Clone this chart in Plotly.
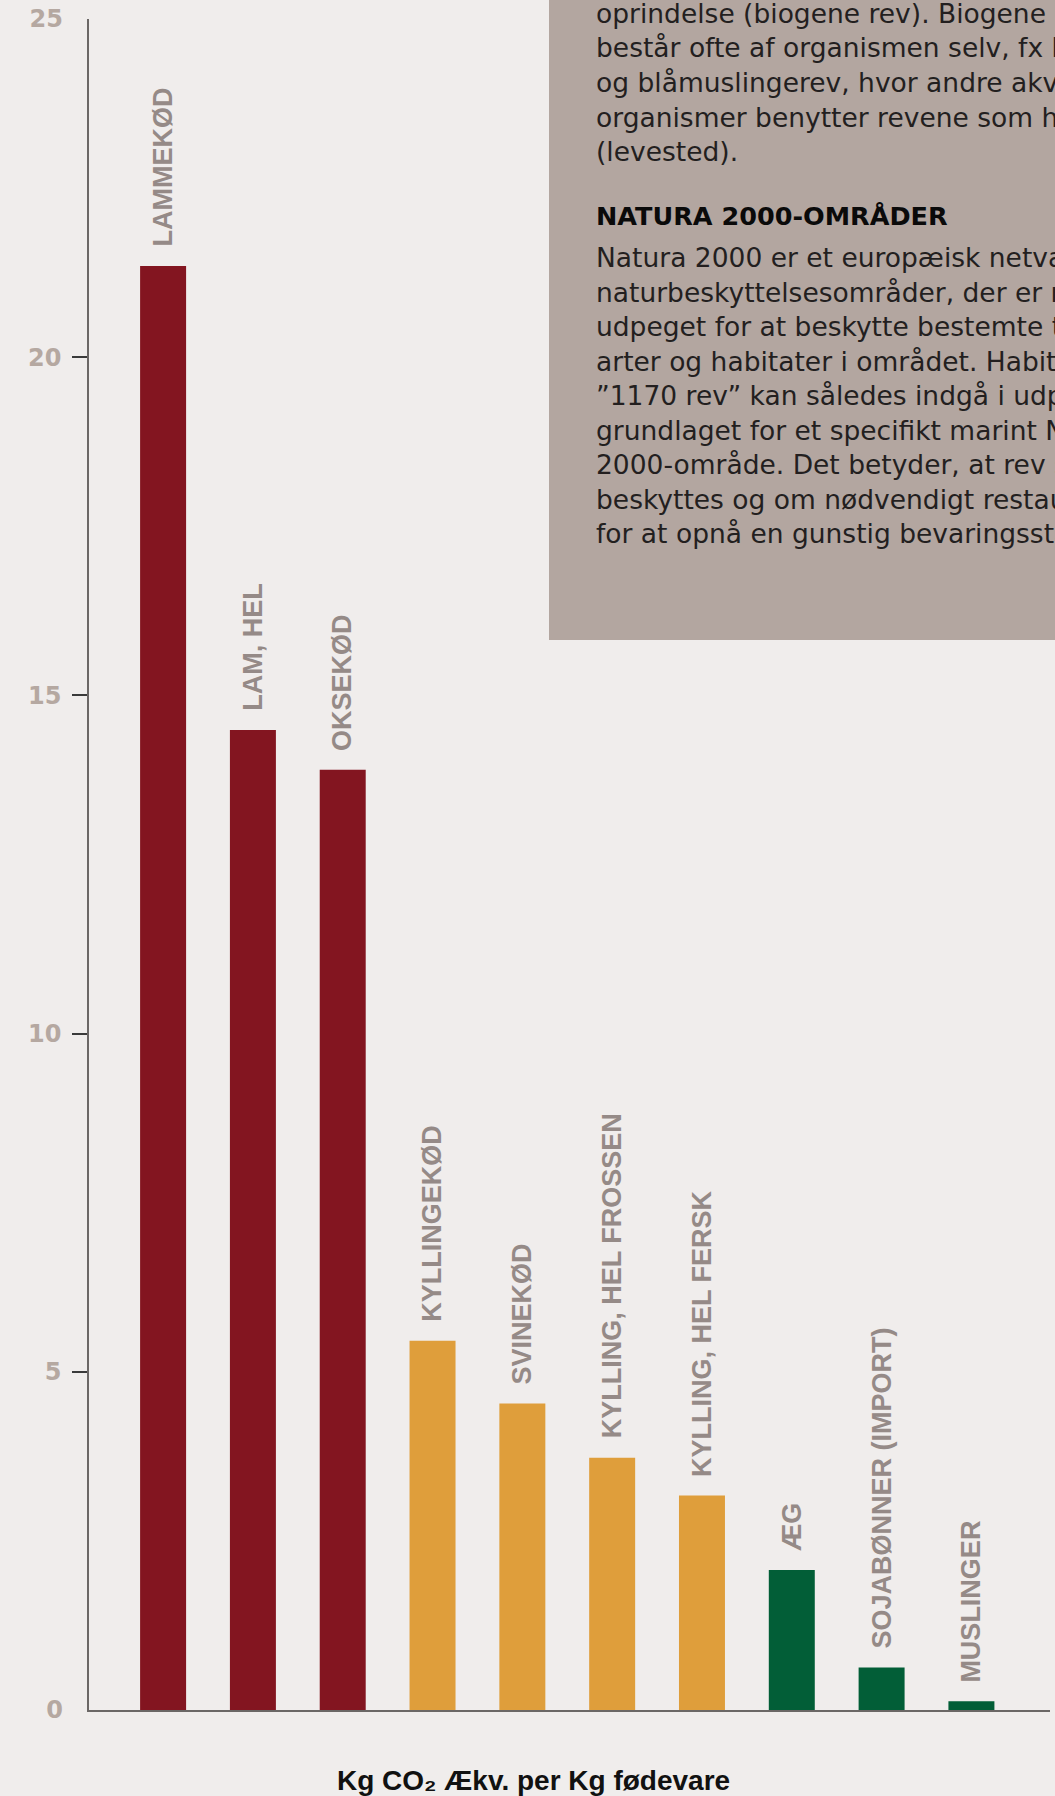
import plotly.graph_objects as go

# --- data -------------------------------------------------------------
foods = [
    "LAMMEKØD", "LAM, HEL", "OKSEKØD", "KYLLINGEKØD", "SVINEKØD",
    "KYLLING, HEL FROSSEN", "KYLLING, HEL FERSK", "ÆG",
    "SOJABØNNER (IMPORT)", "MUSLINGER",
]
co2_per_kg = [21.35, 14.49, 13.90, 5.46, 4.53, 3.73, 3.17, 2.07, 0.63, 0.13]
groups = ["rødt kød", "rødt kød", "rødt kød", "fjerkræ/svin", "fjerkræ/svin",
          "fjerkræ/svin", "fjerkræ/svin", "lav", "lav", "lav"]
y_ticks = [5, 10, 15, 20]
y_end_ticks = [0, 25]
x_title = "Kg CO₂ Ækv. per Kg fødevare"

box_intro = [
    "oprindelse (biogene rev). Biogene rev",
    "består ofte af organismen selv, fx koralrev",
    "og blåmuslingerev, hvor andre akvatiske",
    "organismer benytter revene som habitat",
    "(levested).",
]
box_heading = "NATURA 2000-OMRÅDER"
box_body = [
    "Natura 2000 er et europæisk netværk af",
    "naturbeskyttelsesområder, der er nationalt",
    "udpeget for at beskytte bestemte truede",
    "arter og habitater i området. Habitattypen",
    "”1170 rev” kan således indgå i udpegnings-",
    "grundlaget for et specifikt marint Natura",
    "2000-område. Det betyder, at rev skal",
    "beskyttes og om nødvendigt restaureres",
    "for at opnå en gunstig bevaringsstatus.",
]

# --- styling ----------------------------------------------------------
W, H = 1055, 1796
ML, MR, MT, MB = 89, 5, 16, 86
BG = "#f0edec"
BOX = "#b3a6a0"
group_colors = {"rødt kød": "#831520", "fjerkræ/svin": "#df9e3b", "lav": "#025e37"}
LABEL_GREY = "#958a87"
TICK_GREY = "#b5a8a1"
AXIS_GREY = "#6b6766"
FONT_B = "Liberation Sans"
WIDE = "DejaVu Sans"


def paper_y(py):
    return (H - MB - py) / (H - MT - MB)


def paper_x(px):
    return (px - ML) / (W - ML - MR)


fig = go.Figure()
fig.add_trace(go.Bar(
    x=foods, y=co2_per_kg,
    marker=dict(color=[group_colors[g] for g in groups], line=dict(width=0)),
    width=0.512,
    hoverinfo="x+y",
))
# invisible companion trace: carries the end labels 0 and 25 without tick marks
fig.add_trace(go.Scatter(x=[foods[0]], y=[0], yaxis="y2", mode="markers",
                         marker=dict(opacity=0), hoverinfo="skip", showlegend=False))

annotations = []
for f, v in zip(foods, co2_per_kg):
    annotations.append(dict(
        x=f, y=v, xref="x", yref="y", text=f, textangle=-90,
        showarrow=False, xanchor="center", yanchor="bottom", yshift=17,
        font=dict(family=FONT_B, size=27, color=LABEL_GREY, weight="bold"),
    ))

# info box text
LINE = 34.6
x0 = paper_x(594)
for i, line in enumerate(box_intro):
    annotations.append(dict(
        x=x0, y=paper_y(10.4 + i * LINE), xref="paper", yref="paper",
        text=line, showarrow=False, xanchor="left", yanchor="middle",
        font=dict(family=WIDE, size=26.5, color="#231f1f"),
    ))
annotations.append(dict(
    x=x0, y=paper_y(213.5), xref="paper", yref="paper", text=box_heading,
    showarrow=False, xanchor="left", yanchor="middle",
    font=dict(family=WIDE, size=25.5, color="#0a0a0a", weight="bold"),
))
for i, line in enumerate(box_body):
    annotations.append(dict(
        x=x0, y=paper_y(255 + i * LINE), xref="paper", yref="paper",
        text=line, showarrow=False, xanchor="left", yanchor="middle",
        font=dict(family=WIDE, size=26.5, color="#231f1f"),
    ))

annotations.append(dict(
    x=paper_x(533), y=paper_y(1781), xref="paper", yref="paper", text=x_title,
    showarrow=False, xanchor="center", yanchor="middle",
    font=dict(family=FONT_B, size=28, color="#111111", weight="bold"),
))

tick_font = dict(family=WIDE, size=24, color=TICK_GREY, weight="bold")

fig.update_layout(
    width=W, height=H,
    margin=dict(l=ML, r=MR, t=MT, b=MB),
    paper_bgcolor=BG, plot_bgcolor=BG,
    showlegend=False,
    shapes=[dict(type="rect", xref="paper", yref="paper",
                 x0=paper_x(549), x1=1.3, y0=paper_y(638), y1=1.2,
                 fillcolor=BOX, line=dict(width=0), layer="above")],
    annotations=annotations,
    xaxis=dict(
        range=[-0.825, 9.875], showticklabels=False, ticks="",
        showline=True, linecolor=AXIS_GREY, linewidth=1.5,
        showgrid=False, zeroline=False, fixedrange=True,
    ),
    yaxis=dict(
        range=[0, 25], tickvals=y_ticks, ticks="outside", ticklen=15,
        tickwidth=1.5, tickcolor="#3a3a3a", ticklabelstandoff=6,
        tickfont=tick_font,
        showline=True, linecolor=AXIS_GREY, linewidth=1.5,
        showgrid=False, zeroline=False, fixedrange=True,
    ),
    yaxis2=dict(
        range=[0, 25], overlaying="y", side="left", tickvals=y_end_ticks,
        ticks="", ticklabelstandoff=25,
        tickfont=tick_font,
        showline=False, showgrid=False, zeroline=False, fixedrange=True,
    ),
)

fig.write_html("out.html")
